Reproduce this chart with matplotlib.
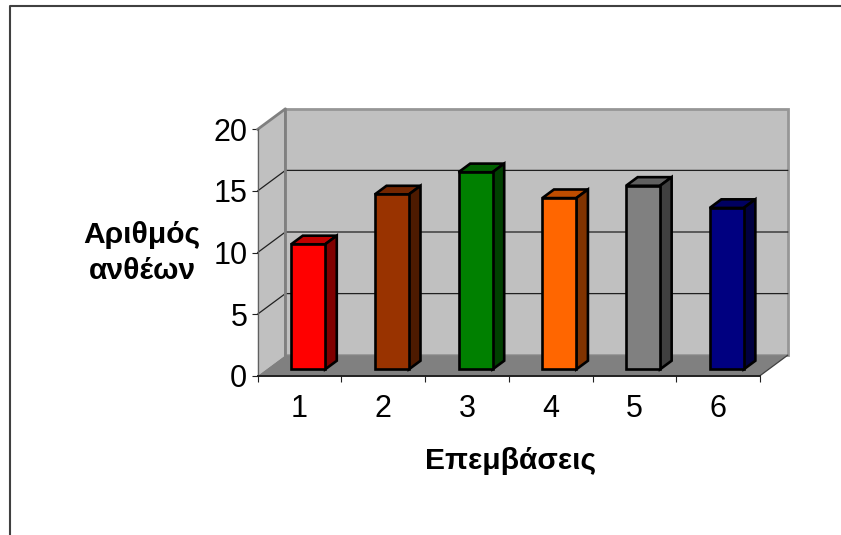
import matplotlib
matplotlib.use('Agg')
import matplotlib.pyplot as plt
from matplotlib.lines import Line2D
from matplotlib.patches import Polygon

plt.rcParams['font.family'] = ['Liberation Sans', 'DejaVu Sans']

categories = ['1', '2', '3', '4', '5', '6']
values = [10.15, 14.2, 16.0, 13.9, 14.9, 13.1]
front_colors = ['#FF0000', '#993300', '#008000', '#FF6600', '#808080', '#000080']
top_colors = ['#C00000', '#732600', '#006000', '#BF4D00', '#606060', '#000060']
side_colors = ['#800000', '#4D1A00', '#004000', '#803300', '#404040', '#000040']
yticks = [0, 5, 10, 15, 20]

W, H = 841, 535
fig = plt.figure(figsize=(W / 100, H / 100), dpi=100)
# front plane of the fake 3d box
left, right, bottom, top = 257.7, 760.0, 375.7, 129.3
ax = fig.add_axes([left / W, 1 - bottom / H, (right - left) / W, (bottom - top) / H])
ax.set_xlim(0.5, 6.5)
ax.set_ylim(0, 20)
ax.patch.set_visible(False)

# how far one full unit of depth moves things, in data units
DX = 27.7 / ((right - left) / 6)
DY = 20.5 / ((bottom - top) / 20)


def pr(x, y, d):
    return (x + d * DX, y + d * DY)


def face(pts, color, edge='none', lw=0, z=1):
    ax.add_patch(Polygon(pts, closed=True, facecolor=color, edgecolor=edge, linewidth=lw,
                         joinstyle='miter', clip_on=False, zorder=z))


# walls and floor
face([pr(0.5, 0, 1), pr(6.5, 0, 1), pr(6.5, 20, 1), pr(0.5, 20, 1)], '#C0C0C0', '#969696', 2.0)
face([pr(0.5, 0, 0), pr(0.5, 0, 1), pr(0.5, 20, 1), pr(0.5, 20, 0)], '#C0C0C0')
face([pr(0.5, 0, 0), pr(6.5, 0, 0), pr(6.5, 0, 1), pr(0.5, 0, 1)], '#808080')

# gridlines along side wall and back wall
for v in yticks[1:-1]:
    xs = [pr(0.5, v, 0)[0], pr(0.5, v, 1)[0], pr(6.5, v, 1)[0]]
    ys = [pr(0.5, v, 0)[1], pr(0.5, v, 1)[1], pr(6.5, v, 1)[1]]
    ax.plot(xs, ys, color='#202020', lw=0.9, clip_on=False, zorder=2)

# wall edges
ax.plot(*zip(pr(0.5, 0, 1), pr(0.5, 20, 1), pr(0.5, 20, 0)), color='#808080', lw=2.0,
        clip_on=False, zorder=2)
ax.plot(*zip(pr(6.5, 0, 0), pr(6.5, 0, 1)), color='#404040', lw=0.9, clip_on=False, zorder=2)

# bars
D0, D1 = 0.31, 0.73
BW = 0.203
for i, v in enumerate(values):
    x0 = i + 1 - BW
    x1 = i + 1 + BW
    z = 5
    face([pr(x0, v, D0), pr(x1, v, D0), pr(x1, v, D1), pr(x0, v, D1)], top_colors[i], 'black', 1.9, z)
    face([pr(x1, 0, D0), pr(x1, 0, D1), pr(x1, v, D1), pr(x1, v, D0)], side_colors[i], 'black', 1.9, z)
    face([pr(x0, 0, D0), pr(x1, 0, D0), pr(x1, v, D0), pr(x0, v, D0)], front_colors[i], 'black', 1.9, z)

# axes
for s in ['top', 'right']:
    ax.spines[s].set_visible(False)
ax.spines['left'].set_color('#606060')
ax.spines['left'].set_linewidth(0.9)
ax.spines['bottom'].set_color('#202020')
ax.spines['bottom'].set_linewidth(1.4)
ax.set_yticks(yticks)
ax.set_xticks([0.5 + i for i in range(7)])
ax.set_xticklabels([])
ax.set_xticks(range(1, 7), minor=True)
ax.set_xticklabels(categories, minor=True)
ax.tick_params(axis='x', which='major', length=4, width=0.8, color='#202020')
ax.tick_params(axis='x', which='minor', length=0, labelsize=22, pad=13)
ax.tick_params(axis='y', length=4, width=0.8, color='#202020', labelsize=22, pad=3.5)

fig.text(142 / W, 1 - 253 / H, 'Αριθμός\nανθέων', ha='center', va='center', fontsize=21.6,
         fontweight='bold', linespacing=1.38)
fig.text(510.5 / W, 1 - 461 / H, 'Επεμβάσεις', ha='center', va='center', fontsize=21.6,
         fontweight='bold')

# chart area frame, only left and top fall inside the picture
fig.add_artist(Line2D([10 / W, 10 / W, 1], [0, 1 - 6 / H, 1 - 6 / H], color='#404040', lw=1.5))

fig.savefig('out.png', dpi=100)
